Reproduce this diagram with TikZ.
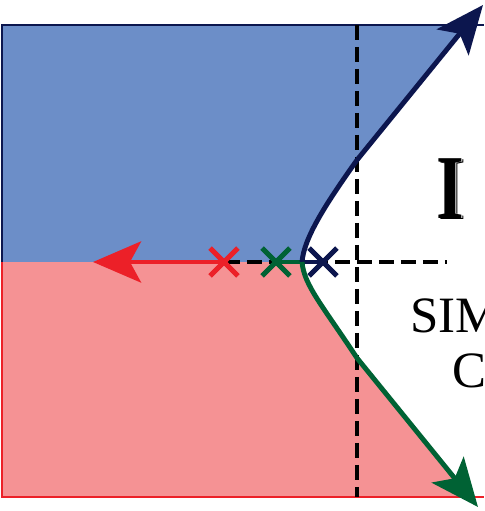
\documentclass[tikz,border=0pt]{standalone}
\usepackage{graphicx}
\usepackage{fontspec}
\setmainfont{Liberation Serif}
\usetikzlibrary{arrows.meta,shapes.misc}
\definecolor{upblue}{RGB}{108,142,200}
\definecolor{lowred}{RGB}{245,146,148}
\definecolor{navy}{RGB}{12,22,78}
\definecolor{locgreen}{RGB}{0,98,52}
\definecolor{locred}{RGB}{236,32,40}
\newcommand{\shadowI}{\scalebox{0.78}[1]{\rlap{\hspace{1.5pt}\raisebox{-1.1pt}{I}}\rlap{\hspace{0.75pt}\raisebox{-0.55pt}{\color{white}I}}I}}

\begin{document}
\begin{tikzpicture}[x=0.02cm,y=-0.02cm,
                    every node/.style={inner sep=0pt},
                    pole/.style={cross out,draw=#1,line width=2.7pt,minimum size=0.46cm},
                    branch/.style={line width=2.8pt,-{Stealth[length=0.96cm,width=0.82cm,inset=0.22cm]}},
                    guide/.style={black,line width=2pt,dash pattern=on 0.3cm off 0.14cm},
                    bigfont/.style={font=\fontsize{29pt}{31pt}\selectfont}]
  \useasboundingbox (0,0) rectangle (484,511);
  \clip (0,0) rectangle (484,511);
  \coordinate (brk) at (302,262);
  \coordinate (up) at (357,160);
  \coordinate (dn) at (357,358);
  \coordinate (uptip) at (483,5);
  \coordinate (dntip) at (478,507);
  \coordinate (lefttip) at (93,262);
  \fill[upblue] (2,25) -- (467,25) -- (up) .. controls (325,205) and (304,238) .. (brk) -- (2,262) -- cycle;
  \fill[lowred] (2,262) -- (brk) .. controls (304,285) and (322,305) .. (dn) -- (470,497) -- (2,497) -- cycle;
  \draw[navy,line width=1pt] (2,262) -- (2,25) -- (484,25);
  \draw[locred,line width=1pt] (2,262) -- (2,497) -- (484,497);
  \draw[guide] (357,25) -- (357,497);
  \draw[guide] (225,262) -- (447,262);
  \node[pole=locred] (p1) at (224,262) {};
  \node[pole=locgreen] (p2) at (276,262) {};
  \node[pole=navy] (p3) at (323,262) {};
  \draw[branch,locred] (p1.center) -- (lefttip);
  \draw[locgreen,line width=2.8pt] (p2.center) -- (brk);
  \draw[navy,line width=2.8pt] (p3.center) -- (brk);
  \draw[branch,navy] (brk) .. controls (304,238) and (325,205) .. (up) -- (uptip);
  \draw[branch,locgreen] (brk) .. controls (304,285) and (322,305) .. (dn) -- (dntip);
  \node[pole=locred] at (p1) {};
  \node[pole=locgreen] at (p2) {};
  \node[pole=navy] at (p3) {};
  \node[anchor=base,font=\fontsize{52pt}{54pt}\selectfont\bfseries] (reg) at (450,218) {\shadowI};
  \node[anchor=base west,bigfont] (sim) at (410,332) {SIM};
  \node[anchor=base west,bigfont] (cee) at (452,387) {C};
\end{tikzpicture}
\end{document}
